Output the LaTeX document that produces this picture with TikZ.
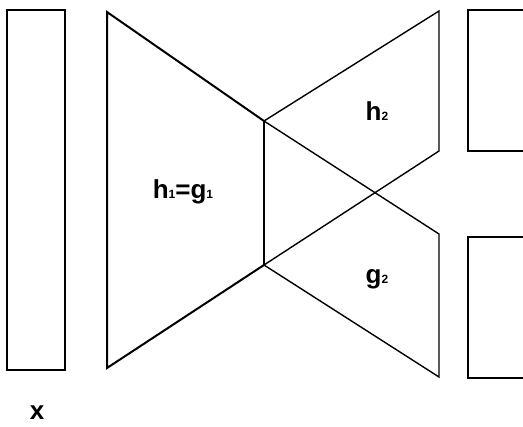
\documentclass[tikz,border=0pt]{standalone}
\usepackage{fontspec}
\setmainfont{Liberation Sans}
\usepackage{tikz}

\tikzset{
  thinline/.style={line width=1.4pt, line join=miter},
  thickline/.style={line width=2pt, line join=miter},
  lbl/.style={inner sep=0pt, font=\fontsize{26}{28}\selectfont\bfseries},
}
\newcommand{\subdig}[1]{{\fontsize{12}{14}\selectfont #1}}

\begin{document}
\begin{tikzpicture}[x=1pt,y=1pt,yscale=-1,xscale=1]
  \useasboundingbox (0,0) rectangle (523,427);
  %Input block
  \draw [thinline] (7,10) rectangle (65,370);
  %Shared encoder
  \coordinate (encTL) at (107,12);
  \coordinate (encBL) at (107,368);
  \coordinate (encTR) at (264,121);
  \coordinate (encBR) at (264,265);
  \draw [thickline] (encTR) -- (encTL) -- (encBL) -- (encBR);
  \draw [line width=2.8pt] (encTR) -- (encBR);
  %Upper head
  \coordinate (hTop) at (439,11);
  \coordinate (hBot) at (439,151);
  \draw [thinline] (encTR) -- (hTop) -- (hBot) -- (encBR);
  %Lower head
  \coordinate (gTop) at (439,234);
  \coordinate (gBot) at (439,377);
  \draw [thinline] (encTR) -- (gTop) -- (gBot) -- (encBR);
  %Output blocks
  \draw [thinline] (523,10) -- (468,10) -- (468,151) -- (523,151);
  \draw [thinline] (523,237) -- (468,237) -- (468,378) -- (523,378);

  % Text Node
  \node [lbl] (encLbl) at (183,192) {h\subdig{1}=g\subdig{1}};
  % Text Node
  \node [lbl] (hLbl) at (377,111) {h\subdig{2}};
  % Text Node
  \node [lbl] (gLbl) at (377,279) {g\subdig{2}};
  % Text Node
  \node [lbl] (xLbl) at (37,413) {x};
\end{tikzpicture}
\end{document}
